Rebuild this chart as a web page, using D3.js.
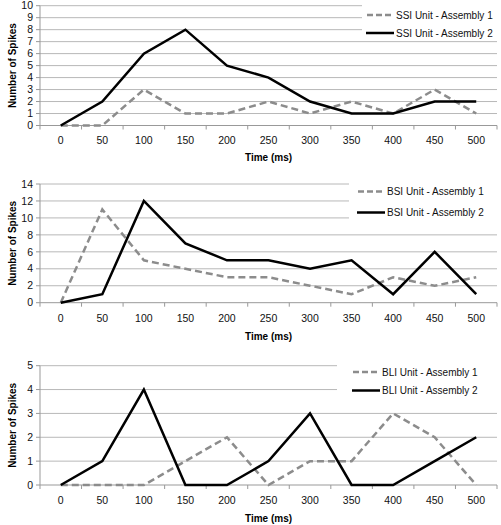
<!DOCTYPE html>
<html><head><meta charset="utf-8">
<script src="https://cdn.jsdelivr.net/npm/d3@7"></script>
<style>
body{margin:0;background:#fff;}
svg{display:block;}
svg text{font-family:Arial,"Liberation Sans",Helvetica,sans-serif;}
</style></head>
<body><svg id="chart" width="501" height="525"></svg>
<script>
const categories = ["0","50","100","150","200","250","300","350","400","450","500"];
const ssiAssembly1 = [0,0,3,1,1,2,1,2,1,3,1];
const ssiAssembly2 = [0,2,6,8,5,4,2,1,1,2,2];
const bsiAssembly1 = [0,11,5,4,3,3,2,1,3,2,3];
const bsiAssembly2 = [0,1,12,7,5,5,4,5,1,6,1];
const bliAssembly1 = [0,0,0,1,2,0,1,1,3,2,0];
const bliAssembly2 = [0,1,4,0,0,1,3,0,0,1,2];
const ssiTicks = [0,1,2,3,4,5,6,7,8,9,10];
const bsiTicks = [0,2,4,6,8,10,12,14];
const bliTicks = [0,1,2,3,4,5];

const panels = [
  {name:"SSI", a1:ssiAssembly1, a2:ssiAssembly2, ticks:ssiTicks, max:10, top:5.7, bottom:125.5, lab:140, title:157, legX:362, legL:367, legY0:15, legY1:33, legBottom:37},
  {name:"BSI", a1:bsiAssembly1, a2:bsiAssembly2, ticks:bsiTicks, max:14, top:184, bottom:302.7, lab:318, title:336, legX:349, legL:358, legY0:191.5, legY1:212.5, legBottom:224},
  {name:"BLI", a1:bliAssembly1, a2:bliAssembly2, ticks:bliTicks, max:5, top:365.7, bottom:485, lab:500, title:518, legX:337, legL:353, legY0:372, legY1:390.5, legBottom:401}
];

const FONT = "Arial, 'Liberation Sans', Helvetica, sans-serif";
const svg = d3.select("#chart");
const left = 40, right = 497;
const x = d3.scaleBand().domain(categories).range([left, right]).padding(0);

panels.forEach(p => {
  const y = d3.scaleLinear().domain([0, p.max]).range([p.bottom, p.top]);
  const g = svg.append("g").attr("font-family", FONT);
  g.selectAll("line.grid").data(p.ticks.filter(t => t > 0)).join("line")
    .attr("x1", left).attr("x2", right)
    .attr("y1", d => y(d)).attr("y2", d => y(d))
    .attr("stroke", "#b8b8b8").attr("stroke-width", 1);
  g.append("rect").attr("x", p.legX).attr("y", p.top - 6).attr("width", 501 - p.legX)
    .attr("height", p.legBottom - p.top + 6).attr("fill", "#fff");
  g.append("line").attr("x1", left).attr("x2", left).attr("y1", p.top).attr("y2", p.bottom)
    .attr("stroke", "#999").attr("stroke-width", 1);
  g.selectAll("line.ytick").data(p.ticks).join("line")
    .attr("x1", left - 4).attr("x2", left)
    .attr("y1", d => y(d)).attr("y2", d => y(d))
    .attr("stroke", "#999");
  g.selectAll("text.ylab").data(p.ticks).join("text")
    .attr("x", 33).attr("y", d => y(d)).attr("dy", "0.35em")
    .attr("text-anchor", "end").attr("font-size", 10.5).attr("fill", "#111")
    .text(d => d);
  g.append("line").attr("x1", left).attr("x2", right).attr("y1", p.bottom).attr("y2", p.bottom)
    .attr("stroke", "#999");
  const bounds = categories.map(c => x(c)).concat([right]);
  g.selectAll("line.xtick").data(bounds).join("line")
    .attr("x1", d => d).attr("x2", d => d)
    .attr("y1", p.bottom).attr("y2", p.bottom + 4)
    .attr("stroke", "#999");
  g.selectAll("text.xlab").data(categories).join("text")
    .attr("x", d => x(d) + x.bandwidth() / 2).attr("y", p.lab).attr("dy", "0.35em")
    .attr("text-anchor", "middle").attr("font-size", 10.5).attr("fill", "#111")
    .text(d => d);
  g.append("text").attr("x", (left + right) / 2).attr("y", p.title).attr("dy", "0.35em")
    .attr("text-anchor", "middle").attr("font-size", 10).attr("font-weight", "bold")
    .text("Time (ms)");
  g.append("text")
    .attr("transform", `translate(12,${(p.top + p.bottom) / 2}) rotate(-90)`)
    .attr("dy", "0.35em").attr("text-anchor", "middle")
    .attr("font-size", 10).attr("font-weight", "bold").text("Number of Spikes");
  const line = d3.line().x((d, i) => x(categories[i]) + x.bandwidth() / 2).y(d => y(d));
  g.append("path").datum(p.a1).attr("d", line).attr("fill", "none")
    .attr("stroke", "#8c8c8c").attr("stroke-width", 2.5).attr("stroke-dasharray", "7,4");
  g.append("path").datum(p.a2).attr("d", line).attr("fill", "none")
    .attr("stroke", "#000").attr("stroke-width", 2.5);
  const lx = p.legL;
  g.append("line").attr("x1", lx).attr("x2", lx + 25).attr("y1", p.legY0).attr("y2", p.legY0)
    .attr("stroke", "#8c8c8c").attr("stroke-width", 2.5).attr("stroke-dasharray", "6,3");
  g.append("line").attr("x1", lx - 1).attr("x2", lx + 27).attr("y1", p.legY1).attr("y2", p.legY1)
    .attr("stroke", "#000").attr("stroke-width", 2.5);
  g.append("text").attr("x", lx + 29).attr("y", p.legY0).attr("dy", "0.35em")
    .attr("font-size", 10).attr("fill", "#111").text(p.name + " Unit - Assembly 1");
  g.append("text").attr("x", lx + 29).attr("y", p.legY1).attr("dy", "0.35em")
    .attr("font-size", 10).attr("fill", "#111").text(p.name + " Unit - Assembly 2");
});
</script></body></html>
